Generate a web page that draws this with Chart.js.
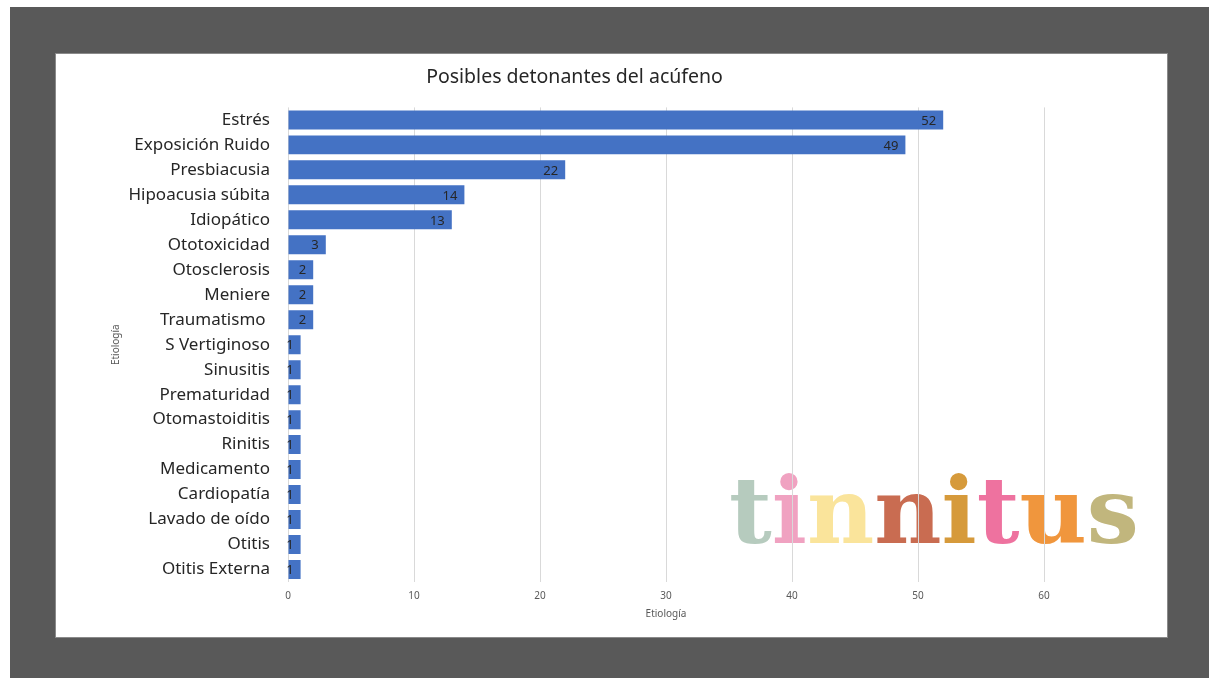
<!DOCTYPE html>
<html lang="es">
<head>
<meta charset="utf-8">
<title>Posibles detonantes del acúfeno</title>
<script src="https://cdn.jsdelivr.net/npm/chart.js@4.4.1/dist/chart.umd.min.js"></script>
<style>
  html, body { margin: 0; padding: 0; background: #ffffff; }
  canvas { display: block; }
</style>
</head>
<body>
<canvas id="chart" width="1209" height="678"></canvas>
<script>
const CATEGORIES = [
  'Estrés', 'Exposición Ruido', 'Presbiacusia', 'Hipoacusia súbita', 'Idiopático',
  'Ototoxicidad', 'Otosclerosis', 'Meniere', 'Traumatismo ', 'S Vertiginoso',
  'Sinusitis', 'Prematuridad', 'Otomastoiditis', 'Rinitis', 'Medicamento',
  'Cardiopatía', 'Lavado de oído', 'Otitis', 'Otitis Externa'
];
const COUNTS = [52, 49, 22, 14, 13, 3, 2, 2, 2, 1, 1, 1, 1, 1, 1, 1, 1, 1, 1];
const X_MAX = 60;
const X_STEP = 10;
const WATERMARK_LETTERS = ['t', 'i', 'n', 'n', 'i', 't', 'u', 's'];
const WATERMARK_COLORS = ['#b6cbbe', '#f0a2c1', '#fae49b', '#c96c51', '#d69a3b', '#ee729f', '#f0963d', '#c1b67d'];

const COLORS = {
  page: '#ffffff',
  frame: '#595959',
  card: '#ffffff',
  cardEdge: '#8a8a8a',
  bar: '#4472c4',
  grid: '#d9d9d9',
  axisText: '#595959',
  text: '#262626'
};
const FONT = '"Noto Sans", "Open Sans", sans-serif';

const backdropPlugin = {
  id: 'backdrop',
  beforeDraw(chart) {
    const ctx = chart.ctx;
    const w = chart.width;
    const h = chart.height;
    ctx.save();
    ctx.fillStyle = COLORS.page;
    ctx.fillRect(0, 0, w, h);
    ctx.fillStyle = COLORS.frame;
    ctx.fillRect(10, 7, w - 10, h - 7);
    ctx.fillStyle = COLORS.card;
    ctx.fillRect(56, 54, 1111, 583);
    ctx.strokeStyle = COLORS.cardEdge;
    ctx.lineWidth = 1;
    ctx.strokeRect(55.5, 53.5, 1112, 584);

    // "tinnitus" picture pasted on the chart, letters in their own colours
    ctx.font = `bold 100px "DejaVu Serif", serif`;
    const total = ctx.measureText(WATERMARK_LETTERS.join('')).width;
    const size = 100 * 410 / total;
    ctx.font = `bold ${size}px "DejaVu Serif", serif`;
    ctx.textBaseline = 'alphabetic';
    ctx.textAlign = 'left';
    let x = 729;
    WATERMARK_LETTERS.forEach((letter, i) => {
      ctx.fillStyle = WATERMARK_COLORS[i];
      ctx.fillText(letter, x, 543);
      x += ctx.measureText(letter).width;
    });
    ctx.restore();
  }
};

const valueLabelPlugin = {
  id: 'valueLabels',
  afterDatasetsDraw(chart) {
    const ctx = chart.ctx;
    const meta = chart.getDatasetMeta(0);
    ctx.save();
    ctx.font = `13px ${FONT}`;
    ctx.fillStyle = COLORS.text;
    ctx.textAlign = 'right';
    ctx.textBaseline = 'middle';
    meta.data.forEach((bar, i) => {
      ctx.fillText(String(COUNTS[i]), bar.x - 7, bar.y + 1);
    });
    ctx.restore();
  }
};

const ctx = document.getElementById('chart').getContext('2d');
new Chart(ctx, {
  type: 'bar',
  data: {
    labels: CATEGORIES,
    datasets: [{
      data: COUNTS,
      backgroundColor: COLORS.bar,
      borderWidth: 0,
      barPercentage: 0.76,
      categoryPercentage: 1
    }]
  },
  options: {
    indexAxis: 'y',
    responsive: false,
    animation: false,
    devicePixelRatio: 1,
    layout: {
      padding: { top: 56, right: 165, bottom: 54, left: 105 }
    },
    plugins: {
      legend: { display: false },
      tooltip: { enabled: false },
      title: {
        display: true,
        text: 'Posibles detonantes del acúfeno',
        color: COLORS.text,
        font: { size: 19.5, family: FONT, weight: 'normal' },
        padding: { top: 10, bottom: 18 }
      }
    },
    scales: {
      x: {
        type: 'linear',
        min: 0,
        max: X_MAX,
        ticks: {
          stepSize: X_STEP,
          color: COLORS.axisText,
          font: { size: 10, family: FONT },
          padding: 8,
          maxRotation: 0
        },
        grid: { color: COLORS.grid, drawTicks: false },
        border: { display: false },
        title: {
          display: true,
          text: 'Etiología',
          color: COLORS.axisText,
          font: { size: 10, family: FONT },
          padding: { top: 0, bottom: 4 }
        },
        afterFit(scale) { scale.height = 42; }
      },
      y: {
        ticks: {
          color: COLORS.text,
          font: { size: 17, family: FONT },
          padding: 10,
          autoSkip: false
        },
        grid: { display: false },
        border: { display: false },
        title: {
          display: true,
          text: 'Etiología',
          color: COLORS.axisText,
          font: { size: 10, family: FONT },
          padding: { top: 5, bottom: 0 }
        },
        afterFit(scale) { scale.width = 183; }
      }
    }
  },
  plugins: [backdropPlugin, valueLabelPlugin]
});
</script>
</body>
</html>
